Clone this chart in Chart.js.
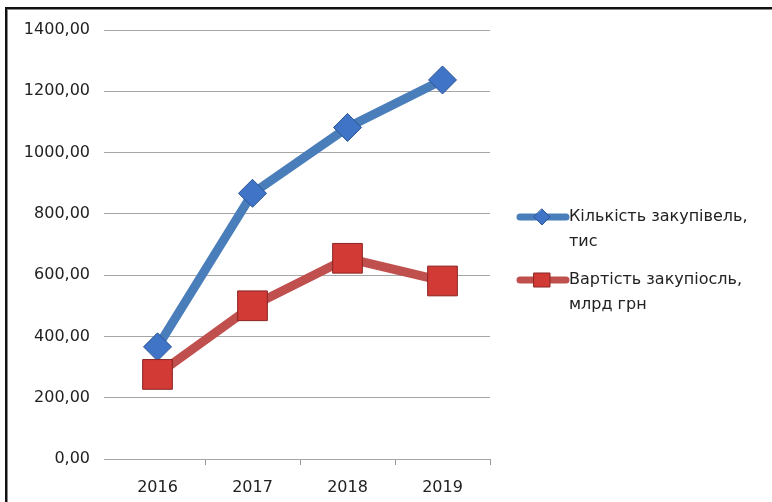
<!DOCTYPE html>
<html>
<head>
<meta charset="utf-8">
<script src="https://cdn.jsdelivr.net/npm/chart.js@4/dist/chart.umd.min.js"></script>
<style>
  html, body { margin: 0; padding: 0; background: #fff; overflow: hidden; }
  canvas { position: absolute; left: 0; top: 0; }
</style>
</head>
<body>
<canvas id="c" width="772" height="502"></canvas>
<script>
const categories = ['2016', '2017', '2018', '2019'];
const countValues = [366, 867, 1082, 1237];
const costValues = [276, 500, 655, 581];
const seriesNames = [['Кількість закупівель,', 'тис'], ['Вартість закупіосль,', 'млрд грн']];
const yTicks = [0, 200, 400, 600, 800, 1000, 1200, 1400];

const blueLine = '#4a7ebb', blueFill = '#3f74c6', blueEdge = '#2b5596';
const redLine = '#c0504d', redFill = '#d23a36', redEdge = '#8a2522';

const framePlugin = {
  id: 'frame',
  beforeDraw(chart) {
    const ctx = chart.ctx;
    ctx.save();
    ctx.fillStyle = '#888';
    ctx.fillRect(5, 7, 772, 3);
    ctx.fillRect(5, 7, 3, 502);
    ctx.fillStyle = '#111';
    ctx.fillRect(5, 7, 772, 2);
    ctx.fillRect(5, 7, 2, 502);
    ctx.restore();
  }
};

const legendPlugin = {
  id: 'customLegend',
  afterDraw(chart) {
    const ctx = chart.ctx;
    const items = [
      { y: 217, line: blueLine, fill: blueFill, edge: blueEdge, style: 'diamond', text: seriesNames[0] },
      { y: 280, line: redLine, fill: redFill, edge: redEdge, style: 'square', text: seriesNames[1] }
    ];
    ctx.save();
    items.forEach(it => {
      ctx.strokeStyle = it.line;
      ctx.lineWidth = 7;
      ctx.lineCap = 'round';
      ctx.beginPath();
      ctx.moveTo(520, it.y);
      ctx.lineTo(566, it.y);
      ctx.stroke();
      ctx.fillStyle = it.fill;
      ctx.strokeStyle = it.edge;
      ctx.lineWidth = 1;
      ctx.beginPath();
      if (it.style === 'diamond') {
        ctx.moveTo(542, it.y - 8); ctx.lineTo(550, it.y); ctx.lineTo(542, it.y + 8); ctx.lineTo(534, it.y);
        ctx.closePath();
      } else {
        ctx.rect(534, it.y - 7, 16, 14);
      }
      ctx.fill(); ctx.stroke();
      ctx.fillStyle = '#222';
      ctx.font = '16px "DejaVu Sans"';
      ctx.textBaseline = 'middle';
      ctx.textAlign = 'left';
      ctx.fillText(it.text[0], 569, it.y);
      ctx.fillText(it.text[1], 569, it.y + 25);
    });
    ctx.restore();
  }
};

new Chart(document.getElementById('c'), {
  type: 'line',
  data: {
    labels: categories,
    datasets: [
      {
        label: seriesNames[0].join(' '),
        data: countValues,
        borderColor: blueLine,
        borderWidth: 9,
        pointStyle: 'rectRot',
        pointRadius: 14,
        pointHoverRadius: 14,
        pointBackgroundColor: blueFill,
        pointBorderColor: blueEdge,
        pointBorderWidth: 1,
        tension: 0,
        order: 1
      },
      {
        label: seriesNames[1].join(' '),
        data: costValues,
        borderColor: redLine,
        borderWidth: 9,
        pointStyle: 'rect',
        pointRadius: 21,
        pointHoverRadius: 21,
        pointBackgroundColor: redFill,
        pointBorderColor: redEdge,
        pointBorderWidth: 1,
        tension: 0,
        order: 0
      }
    ]
  },
  options: {
    responsive: false,
    animation: false,
    events: [],
    layout: { padding: { left: 0, right: 282, top: 30, bottom: 0 } },
    plugins: { legend: { display: false }, tooltip: { enabled: false } },
    scales: {
      x: {
        offset: true,
        border: { display: false },
        grid: {
          offset: true,
          drawOnChartArea: false,
          drawTicks: true,
          tickLength: 6,
          color: (c) => (c.index === 0 || c.index === categories.length) ? 'rgba(0,0,0,0)' : '#999'
        },
        ticks: { color: '#222', font: { family: 'DejaVu Sans', size: 16 }, padding: 13 },
        afterFit(s) { s.height = 43; }
      },
      y: {
        min: 0,
        max: 1400,
        border: { display: false },
        afterBuildTicks(s) { s.ticks = yTicks.map(v => ({ value: v })); },
        grid: { color: '#a6a6a6', lineWidth: 1, drawTicks: true, tickLength: 6 },
        ticks: {
          color: '#222',
          font: { family: 'DejaVu Sans', size: 16 },
          padding: 14,
          callback: (v) => Number(v).toFixed(2).replace('.', ',')
        },
        afterFit(s) { s.width = 110; }
      }
    }
  },
  plugins: [framePlugin, legendPlugin]
});
</script>
</body>
</html>
